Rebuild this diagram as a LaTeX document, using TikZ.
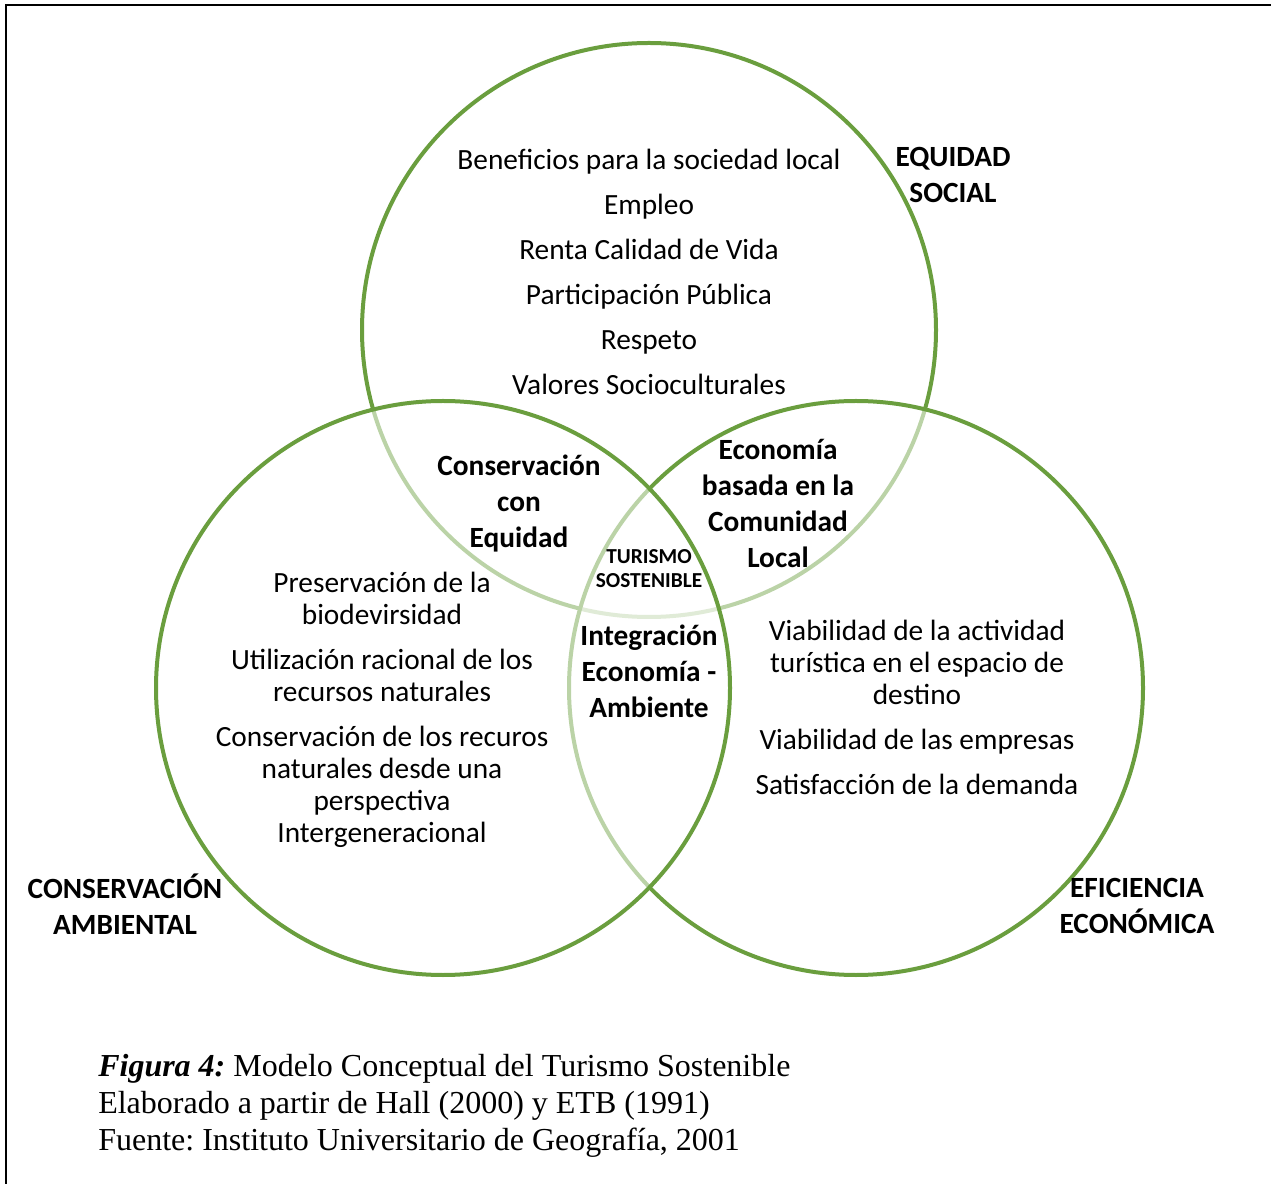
\documentclass[tikz,border=0pt]{standalone}
\usepackage{fontspec}
\setmainfont{Carlito}
\newfontfamily\captionfont{Liberation Serif}
\definecolor{venngreen}{RGB}{106,158,62}
\frenchspacing

\begin{document}
\begin{tikzpicture}[x=0.75pt,y=0.75pt,
	every node/.style={black},
	ring/.style={draw=venngreen, line width=3pt, fill=white, fill opacity=0.55, draw opacity=1},
	items/.style={align=center, font=\fontsize{22}{24}\selectfont},
	region/.style={align=center, font=\bfseries\fontsize{22}{27}\selectfont},
	title/.style={align=center, font=\bfseries\fontsize{22}{27}\selectfont}]
	\useasboundingbox (0,0) rectangle (1271,1183);

	% frame
	\draw[line width=2.2pt] (1275,1178) -- (6,1178) -- (6,-5);

	\coordinate (social) at (649,853);
	\coordinate (economic) at (856,495);
	\coordinate (environment) at (443,495);

	\filldraw[ring] (social) circle [radius=287];
	\filldraw[ring] (economic) circle [radius=287];
	\filldraw[ring] (environment) circle [radius=287];

	\node[items, font=\fontsize{22}{33.75}\selectfont] (socialitems) at (649,911)
		{Beneficios para la sociedad local\\Empleo\\Renta Calidad de Vida\\Participación Pública\\Respeto\\Valores Socioculturales};
	\node[items] (envitems) at (382,473)
		{Preservación de la\\biodevirsidad\\[9.75pt]Utilización racional de los\\recursos naturales\\[9.75pt]Conservación de los recuros\\naturales desde una\\perspectiva\\Intergeneracional};
	\node[items] (ecoitems) at (917,476)
		{Viabilidad de la actividad\\turística en el espacio de\\destino\\[9.75pt]Viabilidad de las empresas\\[9.75pt]Satisfacción de la demanda};

	\node[region] (equidad) at (519,679) {Conservación\\con\\Equidad};
	\node[region] (comunidad) at (778,680) {Economía\\basada en la\\Comunidad\\Local};
	\node[region] (integracion) at (649,512) {Integración\\Economía -\\Ambiente};
	\node[align=center, font=\bfseries\fontsize{16}{18}\selectfont] (turismo) at (649,614) {TURISMO\\SOSTENIBLE};

	\node[title] (socialtitle) at (953,1008) {EQUIDAD\\SOCIAL};
	\node[title] (envtitle) at (125,279) {CONSERVACIÓN\\AMBIENTAL};
	\node[title] (ecotitle) at (1137,277) {EFICIENCIA\\ECONÓMICA};

	\node[anchor=west, align=left, inner sep=0pt, font=\captionfont\fontsize{24}{27.75}\selectfont] (caption) at (98,77)
		{\textbf{\textit{Figura 4:}} Modelo Conceptual del Turismo Sostenible\\Elaborado a partir de Hall (2000) y ETB (1991)\\Fuente: Instituto Universitario de Geografía, 2001};
\end{tikzpicture}
\end{document}
